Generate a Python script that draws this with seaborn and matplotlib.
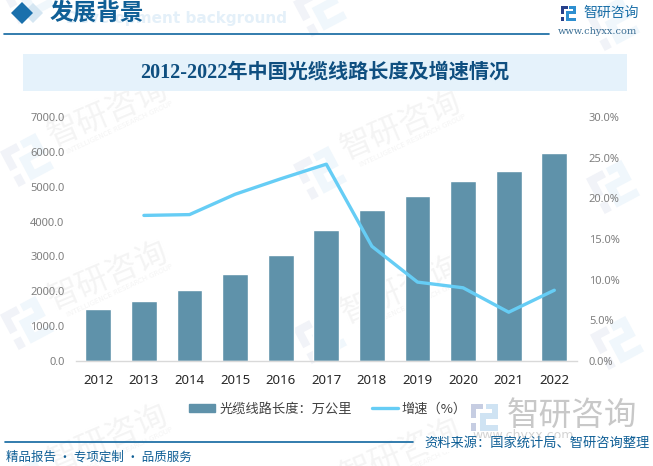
import numpy as np
import pandas as pd
import matplotlib
matplotlib.use('Agg')
import matplotlib.pyplot as plt
import seaborn as sns
from matplotlib.patches import Polygon, Rectangle
from matplotlib.lines import Line2D
from matplotlib.transforms import Affine2D

# data
years = ['2012', '2013', '2014', '2015', '2016', '2017', '2018', '2019', '2020', '2021', '2022']
length = [1480, 1735, 2050, 2485, 3030, 3770, 4320, 4725, 5150, 5465, 5955]
growth = [np.nan, 17.9, 18.0, 20.5, 22.4, 24.2, 14.1, 9.7, 9.0, 6.0, 8.7]
left_ticks = [0, 1000, 2000, 3000, 4000, 5000, 6000, 7000]
right_ticks = [0, 5, 10, 15, 20, 25, 30]

title = '2012-2022年中国光缆线路长度及增速情况'
header = '发展背景'
header_en = 'Development background'
source = '资料来源：国家统计局、智研咨询整理'
slogan = '精品报告 · 专项定制 · 品质服务'
brand = '智研咨询'
site = 'www.chyxx.com'
group = 'INTELLIGENCE RESEARCH GROUP'

W, H = 653, 466
BAR = '#5f92aa'
LINE = '#66cdf5'
DARK = '#0f5f96'
CJK = ['Noto Sans CJK SC', 'DejaVu Sans']
SERIF = ['Liberation Serif', 'Noto Sans CJK SC']

sns.set_theme(style='white')
plt.rcParams['font.family'] = CJK

df = pd.DataFrame({'year': years, 'length': length, 'growth': growth})
df['pos'] = df.index

fig = plt.figure(figsize=(W / 100, H / 100), dpi=100)

# page layer in pixel coordinates
bg = fig.add_axes([0, 0, 1, 1], zorder=0)
bg.set_xlim(0, W)
bg.set_ylim(H, 0)
bg.axis('off')


def logo(ax, x, y, s, c1, c2, angle=0, z=1):
    # simplified company mark, unit square centred on x, y
    tr = Affine2D().translate(-.5, -.5).scale(s).rotate_deg(angle).translate(x, y) + ax.transData
    left = [(0, 0), (.46, 0), (.46, .2), (.2, .2), (.2, .55), (0, .55)]
    dot = [(0, .72), (.2, .72), (.2, 1), (0, 1)]
    right = [(.34, .36), (.78, .36), (.78, .2), (.56, .2), (.56, 0), (1, 0), (1, .56), (.56, .56), (.56, .8), (1, .8), (1, 1), (.34, 1)]
    ax.add_patch(Polygon(left, color=c1, lw=0, transform=tr, zorder=z))
    ax.add_patch(Polygon(dot, color=c1, lw=0, transform=tr, zorder=z))
    ax.add_patch(Polygon(right, color=c2, lw=0, transform=tr, zorder=z))


# faint repeated watermark, text only where it stays on the page
marks = [(27, -3, False), (27, 160, True), (27, 323, True), (27, 486, True),
         (320, 10, False), (320, 173, True), (320, 337, True), (320, 500, True),
         (613, 24, False), (613, 187, False), (617, 343, False)]
for wx, wy, with_text in marks:
    logo(bg, wx, wy, 40, '#f1f3f8', '#f0f7fc', angle=-28)
    if with_text:
        bg.text(wx + 81, wy - 47, brand, fontsize=23, color='#f4f4f4', rotation=23,
                rotation_mode='anchor', ha='center', va='center', zorder=1)
        bg.text(wx + 93, wy - 32, group, fontsize=5, color='#f4f4f4', rotation=25,
                rotation_mode='anchor', ha='center', va='center', zorder=1, family='DejaVu Sans')

# header
bg.add_patch(Polygon([(23, 13), (33, 3), (43, 13), (33, 23)], color='#d5e6f2', lw=0, zorder=2))
bg.add_patch(Polygon([(11, 13), (22, 2), (33, 13), (22, 24)], color='#1a70ac', lw=0, zorder=3))
bg.text(50, 14, header, fontsize=17, color=DARK, family=SERIF, fontweight='bold', ha='left', va='center', zorder=4)
bg.text(66, 18, header_en, fontsize=11, color='#e4f0f9', family='DejaVu Sans', fontweight='bold', ha='left', va='center', zorder=3)
bg.add_line(Line2D([4, 549], [34, 34], color='#0f66a0', lw=1.2, zorder=3))

# top right mark
logo(bg, 568.5, 13.5, 15, '#27408b', '#2e8fd0', z=4)
bg.text(583, 13, brand, fontsize=10, color='#1a6fa8', ha='left', va='center', zorder=4)
bg.text(558, 32, site, fontsize=7, color='#3b6f95', family='DejaVu Serif', ha='left', va='center', zorder=4)

# title band
bg.add_patch(Rectangle((23, 54), 604, 37, color='#e5f2fb', lw=0, zorder=2))
bg.text(325, 73, title, fontsize=14.5, color='#0f4f80', family=SERIF, fontweight='bold', ha='center', va='center', zorder=3)

# grey brand block above the source line
logo(bg, 484.5, 417, 27, '#c6cde2', '#cfe3f3', z=2)
bg.text(507, 416, brand, fontsize=23.5, color='#c8c8c8', ha='left', va='center', zorder=2)
bg.text(472, 436, site, fontsize=9, color='#d4d4d4', family='DejaVu Sans', ha='left', va='center', zorder=2)

# footer
bg.add_patch(Rectangle((416, 438), 237, 14, color='white', lw=0, zorder=3))
bg.add_line(Line2D([5, 413], [442, 442], color='#0f66a0', lw=1.2, zorder=3))
bg.text(6, 457, slogan, fontsize=9, color=DARK, ha='left', va='center', zorder=4)
bg.text(424, 443, source, fontsize=9.55, color=DARK, ha='left', va='center', zorder=4)

# plot
left, right = 75.5, 577.1
top, bottom = 117, 361
ax = fig.add_axes([left / W, 1 - bottom / H, (right - left) / W, (bottom - top) / H], zorder=2)
ax.patch.set_alpha(0)
sns.barplot(data=df, x='year', y='length', color=BAR, saturation=1, width=0.57, ax=ax)
ax.set_xlim(-0.5, 10.5)
ax.set_ylim(0, 7000)
ax.set_yticks(left_ticks)
ax.set_yticklabels([f'{v:.1f}' for v in left_ticks], fontsize=8, color='#7f7f7f', family='Noto Sans')
ax.tick_params(axis='x', labelsize=9.5, labelcolor='#262626', length=0, pad=9)
ax.tick_params(axis='y', length=0, pad=8)
ax.set_xlabel('')
ax.set_ylabel('')
for s in ['top', 'left', 'right']:
    ax.spines[s].set_visible(False)
ax.spines['bottom'].set_color('#d9d9d9')
ax.spines['bottom'].set_linewidth(1)
for t in ax.get_xticklabels():
    t.set_family('Noto Sans')

ax2 = ax.twinx()
ax2.patch.set_alpha(0)
sns.lineplot(data=df, x='pos', y='growth', color=LINE, lw=2.4, ax=ax2)
ax2.set_ylim(0, 30)
ax2.set_yticks(right_ticks)
ax2.set_yticklabels([f'{v:.1f}%' for v in right_ticks], fontsize=8, color='#7f7f7f', family='Noto Sans')
ax2.tick_params(axis='y', length=0, pad=8.4)
ax2.set_ylabel('')
ax2.set_xlabel('')
ax2.grid(False)
for s in ['top', 'left', 'right', 'bottom']:
    ax2.spines[s].set_visible(False)

handles = [Rectangle((0, 0), 1, 1, color=BAR), Line2D([0], [0], color=LINE, lw=2.4)]
fig.legend(handles, ['光缆线路长度：万公里', '增速（%）'], ncols=2, frameon=False, fontsize=9.5,
           loc='center', bbox_to_anchor=(328 / W, 1 - 409 / H), handlelength=2.0, handleheight=0.55,
           handletextpad=0.3, columnspacing=1.5, labelcolor='#404040')

fig.savefig('out.png', dpi=100)
